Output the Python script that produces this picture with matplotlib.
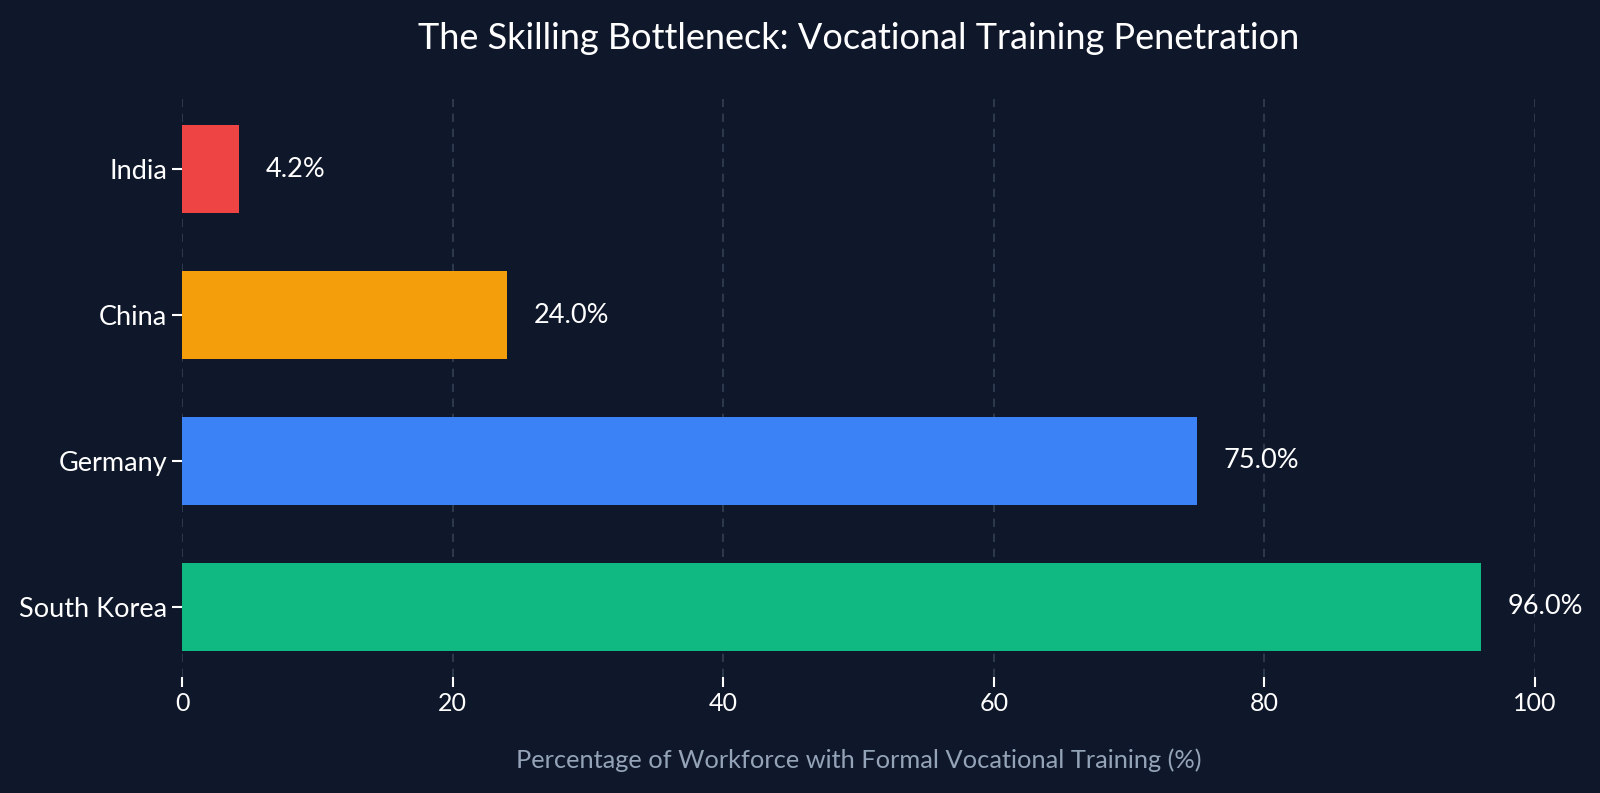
import matplotlib
matplotlib.use("Agg")
import matplotlib.pyplot as plt

countries = ["India", "China", "Germany", "South Korea"]
shares = [4.2, 24.0, 75.0, 96.0]
colors = ["#ef4444", "#f59e0b", "#3b82f6", "#10b981"]
xticks = [0, 20, 40, 60, 80, 100]

bg = "#0f172a"
plt.rcParams["font.family"] = ["Lato", "DejaVu Sans"]

fig = plt.figure(figsize=(16, 7.93), dpi=100, facecolor=bg)
ax = fig.add_axes([182 / 1600, 1 - 677 / 793, 1353 / 1600, 578 / 793])
ax.set_facecolor(bg)

ax.barh(countries, shares, height=0.6, color=colors, zorder=3)
ax.invert_yaxis()

for i, v in enumerate(shares):
    ax.text(v + 2, i, f"{v:.1f}%", va="center", ha="left",
            color="white", fontsize=19.5, zorder=4)

ax.set_xlim(0, 100)
ax.set_xticks(xticks)
ax.grid(axis="x", color="#334155", linestyle=(0, (5, 4)), linewidth=1.2, zorder=0)
ax.grid(axis="y", visible=False)
for s in ax.spines.values():
    s.set_visible(False)
ax.tick_params(colors="white", labelsize=18, length=7, width=1.5)
ax.tick_params(axis="y", labelsize=19.5)

ax.set_title("The Skilling Bottleneck: Vocational Training Penetration",
             color="white", fontsize=26, pad=36)
ax.set_xlabel("Percentage of Workforce with Formal Vocational Training (%)",
              color="#94a3b8", fontsize=18.3, labelpad=24)

fig.savefig("out.png", dpi=100, facecolor=bg)
